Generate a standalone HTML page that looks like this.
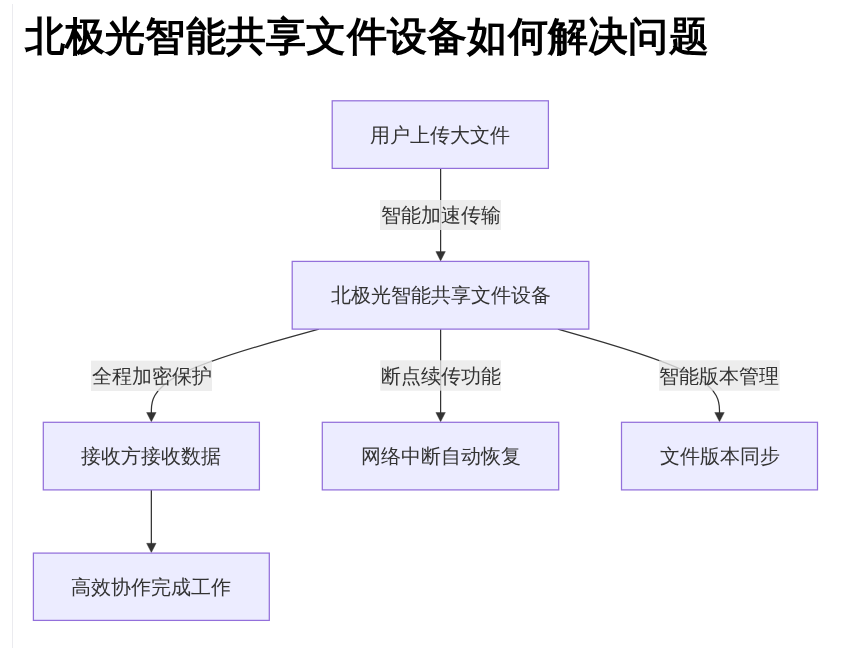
<!DOCTYPE html>
<html><head><meta charset="utf-8">
<style>
html,body{margin:0;padding:0;background:#fff;width:842px;height:648px;overflow:hidden}
body{font-family:"Liberation Sans",sans-serif;position:relative}
.wrap{position:absolute;left:0;top:0;width:842px;height:648px;will-change:transform}
.vline{position:absolute;left:12px;top:4px;width:1px;height:644px;background:#ebebef}
h1{position:absolute;left:24.5px;top:8px;margin:0;font-size:40px;font-weight:bold;color:#000;line-height:56px;white-space:nowrap;letter-spacing:0.25px}
svg{position:absolute;left:0;top:0}
.n{fill:#ECECFF;stroke:#9370DB;stroke-width:1.25}
.t{font-family:"Liberation Sans",sans-serif;font-size:20px;fill:#333;text-anchor:middle;dominant-baseline:central}
.e{fill:none;stroke:#333;stroke-width:1.25}
.a{fill:#333;stroke:#333;stroke-width:0.4;stroke-linejoin:round}
.lb{fill:rgba(232,232,232,0.8)}
</style></head><body>
<div class="wrap"><div class="vline"></div>
<h1>北极光智能共享文件设备如何解决问题</h1>
<svg width="842" height="648" viewBox="0 0 842 648">
<path class="e" d="M440.6,168.4 L440.6,253"/>
<polygon class="a" points="435.85,251.60 445.35,251.60 440.60,260.90"/>
<path class="e" d="M318.84,329.10 L290.92,336.87 C263.01,344.63 207.18,360.17 179.26,374.87 C151.35,389.57 151.35,403.43 151.35,410.37 L151.35,417.30"/>
<polygon class="a" points="146.60,412.50 156.10,412.50 151.35,421.80"/>
<path class="e" d="M440.6,329.1 L440.6,414"/>
<polygon class="a" points="435.85,412.50 445.35,412.50 440.60,421.80"/>
<path class="e" d="M557.89,329.10 L584.83,336.87 C611.76,344.63 665.63,360.17 692.57,374.87 C719.50,389.57 719.50,403.43 719.50,410.37 L719.50,417.30"/>
<polygon class="a" points="714.75,412.50 724.25,412.50 719.50,421.80"/>
<path class="e" d="M151.35,489.9 L151.35,545"/>
<polygon class="a" points="146.60,543.30 156.10,543.30 151.35,552.60"/>
<rect class="n" x="332.2" y="100.8" width="216.20" height="67.60"/>
<text class="t" x="440.30" y="134.60">用户上传大文件</text>
<rect class="n" x="292.2" y="261.4" width="296.60" height="67.70"/>
<text class="t" x="440.50" y="295.25">北极光智能共享文件设备</text>
<rect class="n" x="43.3" y="422.3" width="216.10" height="67.60"/>
<text class="t" x="151.35" y="456.10">接收方接收数据</text>
<rect class="n" x="322.3" y="422.3" width="236.40" height="67.60"/>
<text class="t" x="440.50" y="456.10">网络中断自动恢复</text>
<rect class="n" x="621.5" y="422.3" width="196.00" height="67.60"/>
<text class="t" x="719.50" y="456.10">文件版本同步</text>
<rect class="n" x="33.4" y="553.1" width="235.90" height="67.30"/>
<text class="t" x="151.35" y="586.75">高效协作完成工作</text>
<rect class="lb" x="380" y="200" width="121.00" height="30.00"/>
<text class="t" x="440.50" y="215.00">智能加速传输</text>
<rect class="lb" x="91" y="360.7" width="121.00" height="30.30"/>
<text class="t" x="151.50" y="375.85">全程加密保护</text>
<rect class="lb" x="380.3" y="360.3" width="120.60" height="30.40"/>
<text class="t" x="440.60" y="375.50">断点续传功能</text>
<rect class="lb" x="659.1" y="360.3" width="120.60" height="30.40"/>
<text class="t" x="719.40" y="375.50">智能版本管理</text>
</svg></div>
</body></html>
